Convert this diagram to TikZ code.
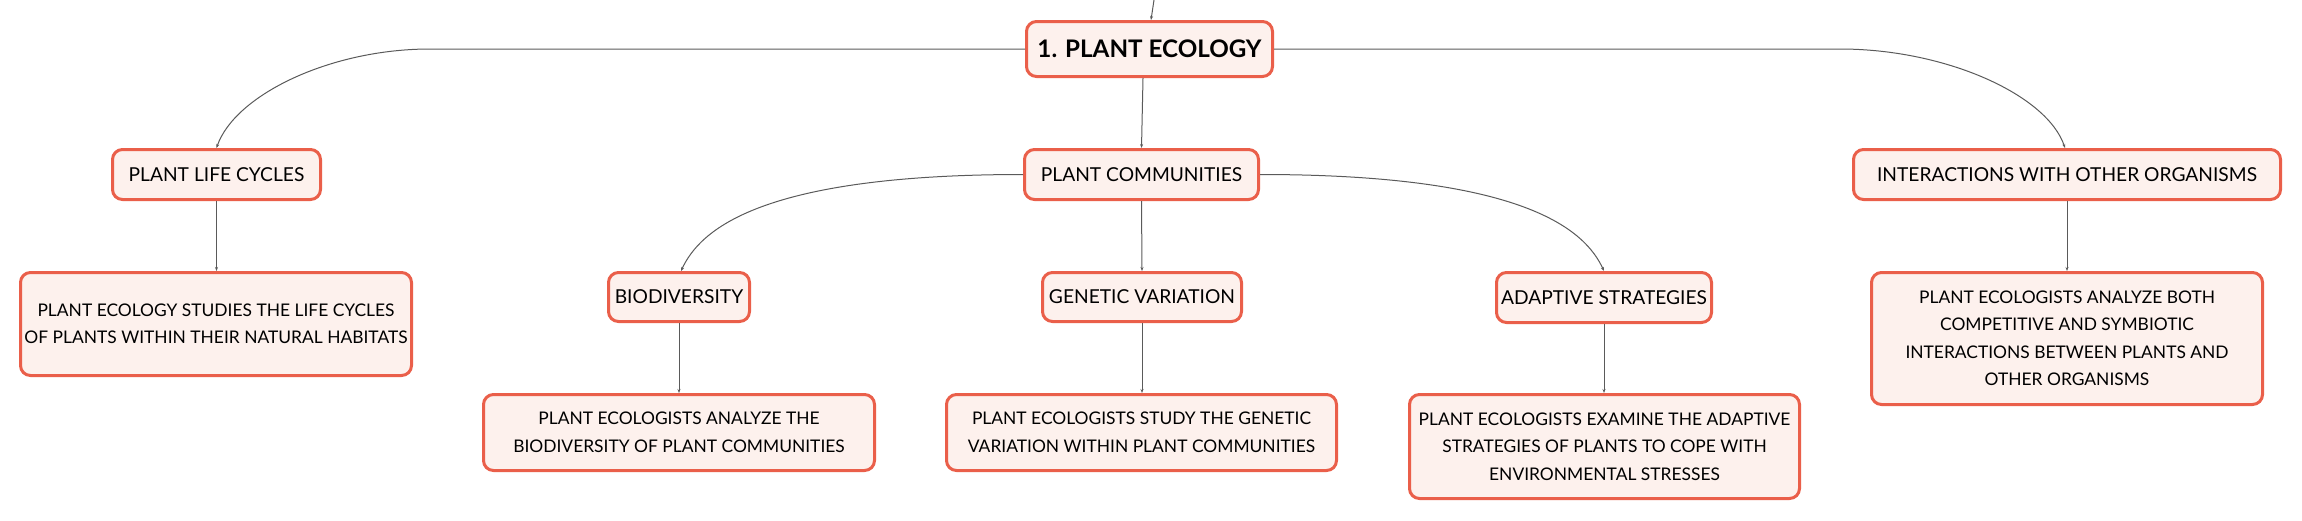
\documentclass[tikz,border=0pt]{standalone}
\usepackage{fontspec}
\setmainfont{Lato}
\usetikzlibrary{arrows.meta}
\definecolor{boxborder}{HTML}{EA5F4A}
\definecolor{boxfill}{HTML}{FDF1ED}
\definecolor{edgecol}{HTML}{5A5A5A}
\tikzset{
  mmbox/.style={draw=boxborder, fill=boxfill, line width=3pt, rounded corners=10pt,
    inner sep=0pt, align=center, text=black, font=\fontsize{19.2}{25}\selectfont},
  rootbox/.style={mmbox, font=\fontsize{24.2}{28}\selectfont\bfseries},
  descbox/.style={mmbox, font=\fontsize{17.4}{27.5}\selectfont},
  edge/.style={draw=edgecol, line width=1pt, -{Stealth[length=4pt,width=3pt]}},
}
\begin{document}
\begin{tikzpicture}[x=1pt, y=-1pt]
\useasboundingbox (0,0) rectangle (2302,520);
% main nodes
\node[rootbox, minimum width=246, minimum height=55] (root) at (1149.5,49) {1. PLANT ECOLOGY};
\node[mmbox, minimum width=208, minimum height=50] (life) at (216.5,174.5) {PLANT LIFE CYCLES};
\node[mmbox, minimum width=234, minimum height=50] (comm) at (1141.5,174.5) {PLANT COMMUNITIES};
\node[mmbox, minimum width=427, minimum height=50] (inter) at (2067,174.5) {INTERACTIONS WITH OTHER ORGANISMS};
\node[mmbox, minimum width=141, minimum height=49] (bio) at (679,297) {BIODIVERSITY};
\node[mmbox, minimum width=199, minimum height=49] (gen) at (1142,297) {GENETIC VARIATION};
\node[mmbox, minimum width=215, minimum height=50] (ada) at (1604,297.5) {ADAPTIVE STRATEGIES};
% descriptions
\node[descbox, minimum width=391, minimum height=103] (lifed) at (216,324) {PLANT ECOLOGY STUDIES THE LIFE CYCLES\\OF PLANTS WITHIN THEIR NATURAL HABITATS};
\node[descbox, minimum width=391, minimum height=76] (biod) at (679,432.5) {PLANT ECOLOGISTS ANALYZE THE\\BIODIVERSITY OF PLANT COMMUNITIES};
\node[descbox, minimum width=390, minimum height=76] (gend) at (1141.5,432.5) {PLANT ECOLOGISTS STUDY THE GENETIC\\VARIATION WITHIN PLANT COMMUNITIES};
\node[descbox, minimum width=390, minimum height=104] (adad) at (1604.5,446.5) {PLANT ECOLOGISTS EXAMINE THE ADAPTIVE\\STRATEGIES OF PLANTS TO COPE WITH\\ENVIRONMENTAL STRESSES};
\node[descbox, minimum width=391, minimum height=132] (interd) at (2067,338.5) {PLANT ECOLOGISTS ANALYZE BOTH\\COMPETITIVE AND SYMBIOTIC\\INTERACTIONS BETWEEN PLANTS AND\\OTHER ORGANISMS};
% connectors
\coordinate (top) at (1154,0);
\coordinate (lifebend) at (430,49);
\coordinate (interbend) at (1840,49);
\draw[edge] (top) -- ([xshift=1.5pt]root.north);
\draw[edge] (root.west) -- (lifebend) .. controls (330,49) and (235,95) .. (life.north);
\draw[edge] (root.east) -- (interbend) .. controls (1946,49) and (2047,95) .. ([xshift=-2pt]inter.north);
\draw[edge] ([xshift=-6.5pt]root.south) -- (comm.north);
\draw[edge] (comm.west) .. controls (760,174.5) and (700,230) .. ([xshift=2pt]bio.north);
\draw[edge] (comm.south) -- (gen.north);
\draw[edge] (comm.east) .. controls (1525,174.5) and (1585,230) .. (ada.north);
\draw[edge] (life.south) -- (lifed.north -| life.south);
\draw[edge] (bio.south) -- (biod.north -| bio.south);
\draw[edge] (gen.south) -- (gend.north -| gen.south);
\draw[edge] (ada.south) -- (adad.north -| ada.south);
\draw[edge] (inter.south) -- (interd.north -| inter.south);
\end{tikzpicture}
\end{document}
